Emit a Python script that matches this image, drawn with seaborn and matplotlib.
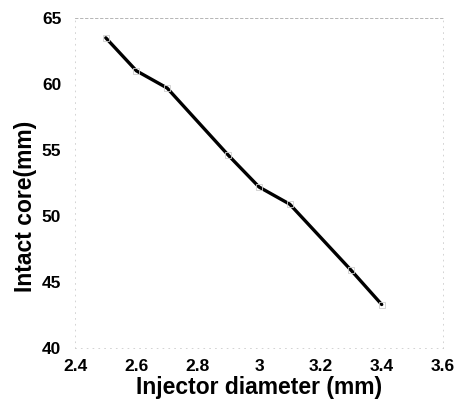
import matplotlib
matplotlib.use("Agg")
import matplotlib.pyplot as plt
import pandas as pd
import seaborn as sns

# ---------- data ----------
diameter = [2.5, 2.6, 2.7, 2.9, 3.0, 3.1, 3.3, 3.4]
intact_core = [63.5, 61.0, 59.7, 54.6, 52.2, 50.9, 45.9, 43.3]
x_ticks = [2.4, 2.6, 2.8, 3.0, 3.2, 3.4, 3.6]
x_tick_labels = ["2.4", "2.6", "2.8", "3", "3.2", "3.4", "3.6"]
y_ticks = [40, 45, 50, 55, 60, 65]

df = pd.DataFrame({"diameter": diameter, "core": intact_core})

sns.set_style("white")
plt.rcParams["font.family"] = ["Liberation Sans", "DejaVu Sans"]

fig = plt.figure(figsize=(4.61, 4.01), dpi=100)
ax = fig.add_axes([0.163, 0.132, 0.798, 0.823])

sns.lineplot(data=df, x="diameter", y="core", color="black", linewidth=2.4,
             marker="s", markersize=4, markerfacecolor="none",
             markeredgecolor="#cccccc", markeredgewidth=0.6, ax=ax)

ax.set_xlim(2.4, 3.6)
ax.set_ylim(40, 65)
ax.set_xticks(x_ticks)
ax.set_xticklabels(x_tick_labels)
ax.set_yticks(y_ticks)
ax.tick_params(axis="both", length=0, labelsize=12.5, labelcolor="black")
ax.tick_params(axis="x", pad=8)
ax.tick_params(axis="y", pad=10)
for lbl in ax.get_xticklabels() + ax.get_yticklabels():
    lbl.set_fontweight("bold")

ax.set_xlabel("Injector diameter (mm)", fontsize=16.5, fontweight="bold",
              color="black", labelpad=1)
ax.set_ylabel("Intact core(mm)", fontsize=16.5, fontweight="bold", color="black")
ax.yaxis.set_label_coords(-0.105, 0.43)

for side in ["top", "bottom", "left", "right"]:
    ax.spines[side].set_visible(True)
    ax.spines[side].set_color("#cccccc")
    ax.spines[side].set_linewidth(0.6)
    ax.spines[side].set_linestyle((0, (1, 6)))
ax.spines["top"].set_linestyle((0, (3, 3)))
ax.spines["top"].set_color("#aaaaaa")

fig.savefig("out.png", dpi=100)
